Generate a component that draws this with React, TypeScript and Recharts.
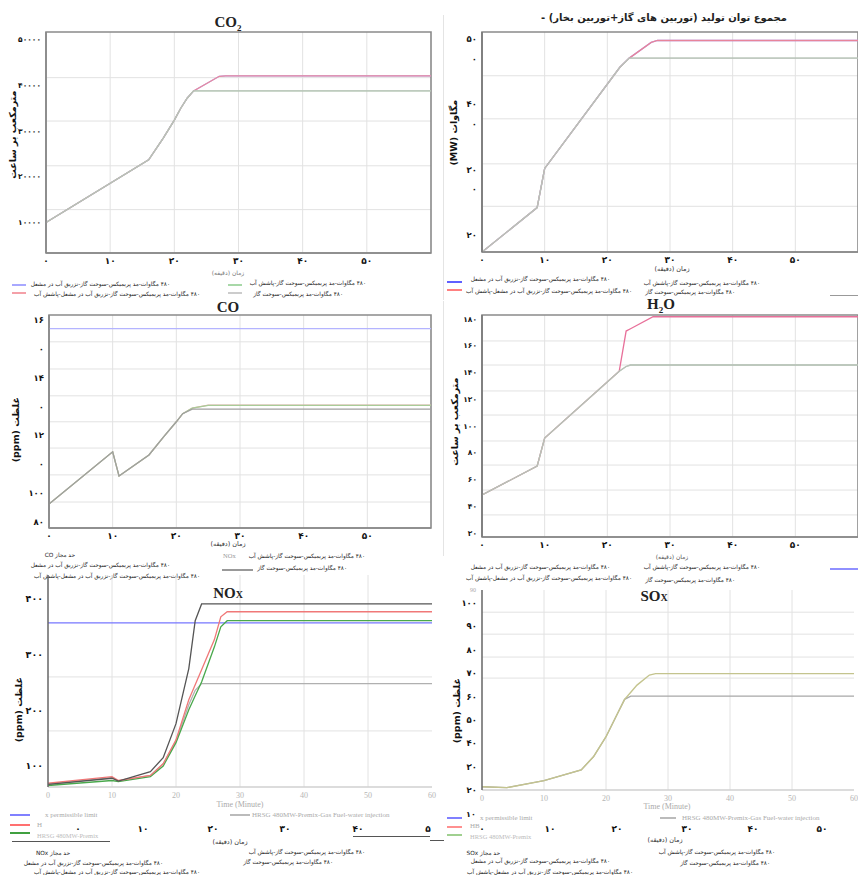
import React from 'react';
import { LineChart, Line, XAxis, YAxis, CartesianGrid, ReferenceLine, ReferenceArea } from 'recharts';

const PF = "'DejaVu Sans', sans-serif";
const SF = "'Liberation Serif', 'Times New Roman', serif";
const FA = '۰۱۲۳۴۵۶۷۸۹';
const toFa = (v: number | string) => String(v).replace(/\d/g, (d) => FA[+d]);

// ---------- shared tick labels ----------
const xTicksFa = [0, 10, 20, 30, 40, 50];
const xTicksEn = [0, 10, 20, 30, 40, 50, 60];
const gridV = [10, 20, 30, 40, 50];

// ---------- CO2 ----------
const co2Time = [0, 16, 18.3, 20, 21, 22, 23, 27, 28, 60];
const co2Gas = [10000, 23700, 28500, 32400, 35000, 37200, 38800, 38800, 38800, 38800];
const co2Spray = [10000, 23700, 28500, 32400, 35000, 37200, 38800, 38800, 38800, 38800];
const co2Inject = [10000, 23700, 28500, 32400, 35000, 37200, 38800, 42000, 42100, 42100];
const co2InjectSpray = [10000, 23700, 28500, 32400, 35000, 37200, 38800, 42000, 42100, 42100];
const co2YTicks = [10000, 20000, 30000, 40000, 50000];
const co2GridH = [12800, 22400, 32200, 41700];

// ---------- Power ----------
const pwTime = [0, 8.8, 10, 22, 23.5, 27, 28, 60];
const pwGas = [17.4, 24.2, 30.2, 45.7, 47.1, 47.1, 47.1, 47.1];
const pwSpray = [17.4, 24.2, 30.2, 45.7, 47.1, 47.1, 47.1, 47.1];
const pwInject = [17.4, 24.2, 30.2, 45.7, 47.1, 49.5, 49.8, 49.8];
const pwInjectSpray = [17.4, 24.2, 30.2, 45.7, 47.1, 49.5, 49.8, 49.8];
const pwYTicks = [20, 27, 30, 37, 40, 47, 50];
const pwYLabels = ['۲۰', '۰', '۳۰', '۰', '۴۰', '۰', '۵۰'];
const pwGridH = [24.4, 30.9, 37.8, 44.4];

// ---------- CO ----------
const coTime = [0, 10, 11, 15.7, 18, 20, 21, 22.5, 25, 60];
const coGas = [96.2, 114.3, 105.9, 113.2, 119.5, 124.7, 127.5, 129.1, 129.1, 129.1];
const coSpray = [96.2, 114.3, 105.9, 113.2, 119.5, 124.7, 127.5, 129.4, 130.4, 130.4];
const coInjectSpray = [96.2, 114.3, 105.9, 113.2, 119.5, 124.7, 127.5, 129.4, 130.5, 130.5];
const coLimit = 157;
const coYTicks = [90, 100, 110, 120, 130, 140, 150, 160];
const coYLabels = ['۸۰', '۱۰۰', '۰', '۱۲', '۰', '۱۴', '۰', '۱۶'];
const coGridH = [96.9, 106.3, 115.6, 124.7, 133.7, 143, 152.4];

// ---------- H2O ----------
const h2oTime = [0, 8.8, 10, 21.9, 23, 23.7, 27.3, 60];
const h2oGas = [48.4, 70, 91, 141, 144.5, 145.6, 145.6, 145.6];
const h2oSpray = [48.4, 70, 91, 141, 144.5, 145.6, 145.6, 145.6];
const h2oInject = [48.4, 70, 91, 141, 171, 172.7, 181.7, 181.7];
const h2oYTicks = [20, 40, 60, 80, 100, 120, 140, 160, 180];
const h2oGridH = [33.5, 52.1, 70.8, 88.8, 108.2, 126.2, 145.6, 163.6];

// ---------- NOx ----------
const noxTime = [0, 10, 11, 16, 18, 20, 22, 23, 24, 26, 27, 28, 60];
const noxGas = [67, 78, 73, 90, 115, 176, 275, 361, 391, 391, 391, 391, 391];
const noxInjectSpray = [69, 81, 74, 83, 104, 147, 219, 246, 273, 327, 368, 377, 377];
const noxSpray = [65, 74, 72, 81, 100, 142, 201, 226, 251, 314, 350, 361, 361];
const noxInject = [67, 79, 73, 83, 104, 145, 210, 236, 248, 248, 248, 248, 248];
const noxLimit = 357;
const noxYTicks = [100, 200, 300, 400];
const noxGridH = [163, 260];
const noxGhostX = [78, 143, 213, 285, 358, 428];
const noxGhostLabels = ['۰', '۱۰', '۲۰', '۳۰', '۴۰', '۵'];

// ---------- SOx ----------
const soxTime = [0, 4, 10, 16, 18, 20, 22, 23, 24, 25, 27, 28, 60];
const soxGas = [21.4, 21.0, 24.0, 28.6, 34.3, 42.8, 53.5, 58.8, 60.2, 60.2, 60.2, 60.2, 60.2];
const soxWater = [21.4, 21.0, 24.0, 28.6, 34.3, 42.8, 53.5, 58.8, 61.8, 64.9, 69.2, 69.8, 69.8];
const soxYTicks = [20, 30, 40, 50, 60, 70, 80, 90, 100];
const soxGridH = [67.9, 76.9, 86.7, 96.1];
const soxGhostX = [482, 550, 617, 687, 753, 822];
const soxGhostLabels = ['۰', '۱۰', '۲۰', '۳۰', '۴۰', '۵۰'];

// ---------- legend texts ----------
const L1 = '۴۸۰ مگاوات-مد پریمیکس-سوخت گاز-تزریق آب در مشعل';
const L2 = '۴۸۰ مگاوات-مد پریمیکس-سوخت گاز-تزریق آب در مشعل-پاشش آب';
const L3 = '۴۸۰ مگاوات-مد پریمیکس-سوخت گاز-پاشش آب';
const L4 = '۴۸۰ مگاوات-مد پریمیکس-سوخت گاز';
const TIME_FA = 'زمان (دقیقه)';

function rows(time: number[], cols: Record<string, number[]>) {
  return time.map((t, i) => {
    const r: Record<string, number> = { t };
    Object.keys(cols).forEach((k) => (r[k] = cols[k][i]));
    return r;
  });
}

type LineSpec = { k: string; c: string; w?: number; o?: number };
type PanelProps = {
  px0: number; px1: number; py0: number; py1: number; yW: number; xH: number;
  data: any[]; lines: LineSpec[];
  yDomain: [number, number]; yTicks: number[]; yFmt: (v: number) => string;
  xTicks: number[]; xFmt: (v: number) => string; xTick: any; yTick: any;
  gridH: number[]; frame?: boolean; xAxisColor: string; yAxisColor: string;
  limit?: { y: number; c: string };
};

function Panel(p: PanelProps) {
  const mt = 4, mr = 8;
  const width = p.px1 - p.px0 + p.yW + mr;
  const height = p.py1 - p.py0 + p.xH + mt;
  return (
    <div style={{ position: 'absolute', left: p.px0 - p.yW, top: p.py0 - mt }}>
      <LineChart width={width} height={height} data={p.data} margin={{ top: mt, right: mr, bottom: 0, left: 0 }}>
        <CartesianGrid horizontalValues={p.gridH} verticalValues={gridV} stroke="#e2e2e2" />
        <XAxis dataKey="t" type="number" domain={[0, 60]} allowDataOverflow ticks={p.xTicks} interval={0}
          tickFormatter={p.xFmt} height={p.xH} tick={p.xTick} tickLine={false} tickSize={0} tickMargin={5}
          axisLine={{ stroke: p.xAxisColor, strokeWidth: 1.5 }} />
        <YAxis type="number" domain={p.yDomain} allowDataOverflow ticks={p.yTicks} interval={0}
          tickFormatter={p.yFmt} width={p.yW} tick={p.yTick} tickLine={false} tickSize={0} tickMargin={5}
          axisLine={{ stroke: p.yAxisColor, strokeWidth: 1.5 }} />
        {p.frame && (
          <ReferenceArea x1={0} x2={60} y1={p.yDomain[0]} y2={p.yDomain[1]} fill="none" fillOpacity={0}
            stroke="#8a8a8a" strokeWidth={1.6} ifOverflow="visible" />
        )}
        {p.limit && <ReferenceLine y={p.limit.y} stroke={p.limit.c} strokeWidth={1.2} />}
        {p.lines.map((l) => (
          <Line key={l.k} dataKey={l.k} type="linear" stroke={l.c} strokeWidth={l.w ?? 1.3}
            strokeOpacity={l.o ?? 1} dot={false} activeDot={false} isAnimationActive={false} />
        ))}
      </LineChart>
    </div>
  );
}

type TP = { x: number; y: number; a?: 'l' | 'r' | 'c'; s?: number; b?: boolean; c?: string; f?: string; rtl?: boolean; children: React.ReactNode };
function Tx({ x, y, a = 'l', s = 5.8, b = false, c = '#222', f = PF, rtl = true, children }: TP) {
  const st: React.CSSProperties = {
    position: 'absolute', top: y - s * 0.6, fontSize: s, lineHeight: `${s * 1.2}px`,
    fontWeight: b ? 'bold' : 'normal', color: c, fontFamily: f, whiteSpace: 'nowrap',
    direction: rtl ? 'rtl' : 'ltr',
  };
  if (a === 'l') { st.left = x; st.textAlign = 'left'; }
  else if (a === 'r') { st.left = x - 400; st.width = 400; st.textAlign = 'right'; }
  else { st.left = x - 200; st.width = 400; st.textAlign = 'center'; }
  return <div style={st}>{children}</div>;
}

function VTx({ x, y, s = 10, children }: { x: number; y: number; s?: number; children: React.ReactNode }) {
  return (
    <div style={{
      position: 'absolute', left: x - 100, top: y - s * 0.6, width: 200, textAlign: 'center',
      transform: 'rotate(-90deg)', fontSize: s, lineHeight: `${s * 1.2}px`, fontWeight: 'bold',
      fontFamily: PF, direction: 'rtl', whiteSpace: 'nowrap', color: '#111',
    }}>{children}</div>
  );
}

function LL({ x1, x2, y, c, w = 2 }: { x1: number; x2: number; y: number; c: string; w?: number }) {
  return <div style={{ position: 'absolute', left: x1, top: y - w / 2, width: x2 - x1, height: w, background: c }} />;
}

const boldTick = { fontSize: 9, fontWeight: 'bold', fill: '#111', fontFamily: PF };
const yTickS = { fontSize: 7.5, fontWeight: 'bold', fill: '#111', fontFamily: PF };
const ghostTick = { fontSize: 8, fill: '#b5b5b5', fontFamily: SF };
const faX = (v: number) => toFa(v);
const enX = (v: number) => String(v);

export default function App() {
  const co2Data = rows(co2Time, { gas: co2Gas, spray: co2Spray, inject: co2Inject, injectSpray: co2InjectSpray });
  const pwData = rows(pwTime, { gas: pwGas, spray: pwSpray, inject: pwInject, injectSpray: pwInjectSpray });
  const coData = rows(coTime, { gas: coGas, spray: coSpray, injectSpray: coInjectSpray });
  const h2oData = rows(h2oTime, { gas: h2oGas, spray: h2oSpray, inject: h2oInject });
  const noxData = rows(noxTime, { gas: noxGas, injectSpray: noxInjectSpray, spray: noxSpray, inject: noxInject });
  const soxData = rows(soxTime, { gas: soxGas, water: soxWater });

  return (
    <div style={{ position: 'absolute', left: 0, top: 0, width: 858, height: 875, overflow: 'hidden', background: '#fff' }}>
      {/* faint separators */}
      <LL x1={443} x2={444} y={157} c="#e4e4e4" w={285} />
      <LL x1={443} x2={444} y={428} c="#e4e4e4" w={255} />

      {/* ---------- CO2 ---------- */}
      <Tx x={228} y={22} a="c" s={15} b f={SF} rtl={false}>CO<sub style={{ fontSize: 9 }}>2</sub></Tx>
      <VTx x={13} y={135} s={9.5}>مترمکعب بر ساعت</VTx>
      <Panel px0={46} px1={431} py0={32} py1={253} yW={46} xH={20} data={co2Data}
        lines={[
          { k: 'inject', c: '#a0a0ff' }, { k: 'injectSpray', c: '#eb8a9c' },
          { k: 'spray', c: '#a9cfa9' }, { k: 'gas', c: '#bdbdbd', o: 0.75 },
        ]}
        yDomain={[3300, 51700]} yTicks={co2YTicks} yFmt={faX} xTicks={xTicksFa} xFmt={faX}
        xTick={boldTick} yTick={yTickS} gridH={co2GridH} frame xAxisColor="#888" yAxisColor="#888" />
      <Tx x={228} y={273} a="c" s={6} c="#777">{TIME_FA}</Tx>
      <LL x1={12} x2={26} y={285} c="#a8a8ff" />
      <LL x1={12} x2={26} y={293} c="#f4a0a8" />
      <Tx x={170} y={284} a="r">{L1}</Tx>
      <Tx x={200} y={294} a="r">{L2}</Tx>
      <LL x1={228} x2={242} y={285} c="#a8d8a8" />
      <LL x1={228} x2={242} y={293} c="#cccccc" />
      <Tx x={366} y={283} a="r">{L3}</Tx>
      <Tx x={343} y={294} a="r">{L4}</Tx>

      {/* ---------- Power ---------- */}
      <Tx x={664} y={18} a="c" s={10} b>مجموع توان تولید (توربین های گاز+توربین بخار) -</Tx>
      <VTx x={454} y={133} s={9.5}>مگاوات (MW)</VTx>
      <Panel px0={482} px1={858} py0={32} py1={252} yW={40} xH={20} data={pwData}
        lines={[
          { k: 'inject', c: '#a0a0ff' }, { k: 'injectSpray', c: '#e8849a' },
          { k: 'spray', c: '#b0ccb0' }, { k: 'gas', c: '#bdbdbd', o: 0.75 },
        ]}
        yDomain={[17.4, 51.1]} yTicks={pwYTicks} yFmt={(v) => pwYLabels[pwYTicks.indexOf(v)] ?? ''}
        xTicks={xTicksFa} xFmt={faX} xTick={boldTick} yTick={{ ...yTickS, fontSize: 8.5 }} gridH={pwGridH} frame
        xAxisColor="#888" yAxisColor="#777" />
      <Tx x={672} y={270} a="c" s={6.5} c="#333">{TIME_FA}</Tx>
      <LL x1={447} x2={462} y={282} c="#6060ff" />
      <LL x1={447} x2={462} y={290} c="#ff8080" />
      <Tx x={610} y={279} a="r">{L1}</Tx>
      <Tx x={632} y={291} a="r">{L2}</Tx>
      <Tx x={760} y={283} a="r">{L3}</Tx>
      <Tx x={735} y={292} a="r">{L4}</Tx>
      <LL x1={830} x2={858} y={295} c="#999" w={1} />

      {/* ---------- CO ---------- */}
      <Tx x={228} y={307} a="c" s={15} b f={SF} rtl={false}>CO</Tx>
      <VTx x={16} y={430} s={9.5}>غلظت (ppm)</VTx>
      <Panel px0={49} px1={431} py0={315} py1={528} yW={49} xH={20} data={coData}
        lines={[
          { k: 'injectSpray', c: '#e8b0b0' }, { k: 'spray', c: '#a8cc98' }, { k: 'gas', c: '#a0a0a0' },
        ]}
        limit={{ y: coLimit, c: '#b4b4ff' }}
        yDomain={[87.9, 161.7]} yTicks={coYTicks} yFmt={(v) => coYLabels[coYTicks.indexOf(v)] ?? ''}
        xTicks={xTicksFa} xFmt={faX} xTick={boldTick} yTick={{ ...yTickS, fontSize: 8.5 }} gridH={coGridH} frame
        xAxisColor="#888" yAxisColor="#888" />
      <Tx x={228} y={545} a="c" s={6.5} c="#333">{TIME_FA}</Tx>
      <Tx x={75} y={555} a="r">حد مجاز CO</Tx>
      <Tx x={170} y={565} a="r">{L1}</Tx>
      <Tx x={200} y={576} a="r">{L2}</Tx>
      <Tx x={223} y={556} s={6.5} c="#999" f={SF} rtl={false}>NOx</Tx>
      <Tx x={365} y={556} a="r">{L3}</Tx>
      <Tx x={347} y={568} a="r">{L4}</Tx>
      <LL x1={222} x2={253} y={570} c="#999" w={1.5} />

      {/* ---------- H2O ---------- */}
      <Tx x={661} y={304} a="c" s={15} b f={SF} rtl={false}>H<sub style={{ fontSize: 9 }}>2</sub>O</Tx>
      <VTx x={455} y={422} s={9.5}>مترمکعب بر ساعت</VTx>
      <Panel px0={482} px1={858} py0={315} py1={537} yW={40} xH={20} data={h2oData}
        lines={[
          { k: 'inject', c: '#e8709a' }, { k: 'spray', c: '#a9c9a9' }, { k: 'gas', c: '#bdbdbd', o: 0.75 },
        ]}
        yDomain={[17, 183]} yTicks={h2oYTicks} yFmt={faX} xTicks={xTicksFa} xFmt={faX}
        xTick={boldTick} yTick={yTickS} gridH={h2oGridH} frame xAxisColor="#888" yAxisColor="#777" />
      <Tx x={672} y={557} a="c" s={6} c="#555">{TIME_FA}</Tx>
      <Tx x={610} y={567} a="r">{L1}</Tx>
      <Tx x={632} y={578} a="r">{L2}</Tx>
      <Tx x={760} y={567} a="r">{L3}</Tx>
      <Tx x={735} y={580} a="r">{L4}</Tx>
      <LL x1={830} x2={858} y={569} c="#9090ff" />

      {/* ---------- NOx ---------- */}
      <VTx x={19} y={710} s={9.5}>غلظت (ppm)</VTx>
      <Panel px0={48} px1={432} py0={575} py1={787} yW={48} xH={16} data={noxData}
        lines={[
          { k: 'inject', c: '#b0b0b0' }, { k: 'spray', c: '#49a84c' },
          { k: 'injectSpray', c: '#f07878' }, { k: 'gas', c: '#555555' },
        ]}
        limit={{ y: noxLimit, c: '#7676ff' }}
        yDomain={[62.3, 443]} yTicks={noxYTicks} yFmt={faX} xTicks={xTicksEn} xFmt={enX}
        xTick={ghostTick} yTick={{ ...boldTick, fontSize: 9.5 }} gridH={noxGridH}
        xAxisColor="#d0d0d0" yAxisColor="#666" />
      <Tx x={228} y={593} a="c" s={15} b f={SF} rtl={false}>NO<span style={{ fontSize: 10 }}>X</span></Tx>
      <Tx x={240} y={805} a="c" s={8} c="#aaa" f={SF} rtl={false}>Time (Minute)</Tx>
      <LL x1={10} x2={30} y={815} c="#8080ff" />
      <LL x1={10} x2={30} y={825} c="#ff7070" />
      <LL x1={10} x2={30} y={833} c="#40a040" />
      <Tx x={45} y={815} s={7} c="#aaa" f={SF} rtl={false}>x permissible limit</Tx>
      <Tx x={37} y={825} s={7} c="#aaa" f={SF} rtl={false}>H</Tx>
      <Tx x={37} y={836} s={6.5} c="#bbb" f={SF} rtl={false}>HRSG 480MW-Premix</Tx>
      <LL x1={230} x2={250} y={815} c="#bbb" />
      <Tx x={252} y={815} s={7} c="#aaa" f={SF} rtl={false}>HRSG 480MW-Premix-Gas Fuel-water injection</Tx>
      {noxGhostX.map((x, i) => (
        <Tx key={'ng' + i} x={x} y={829} a="c" s={9} b c="#111" rtl={false}>{noxGhostLabels[i]}</Tx>
      ))}
      <Tx x={230} y={843} a="c" s={6.5} c="#333">{TIME_FA}</Tx>
      <LL x1={12} x2={110} y={841} c="#555" w={1} />
      <LL x1={353} x2={430} y={836} c="#555" w={1} />
      <Tx x={70} y={853} a="r">حد مجاز NOx</Tx>
      <Tx x={163} y={863} a="r">{L1}</Tx>
      <Tx x={200} y={872} a="r">{L2}</Tx>
      <Tx x={365} y={852} a="r">{L3}</Tx>
      <Tx x={333} y={862} a="r">{L4}</Tx>

      {/* ---------- SOx ---------- */}
      <VTx x={457} y={711} s={9.5}>غلظت (ppm)</VTx>
      <Panel px0={482} px1={854} py0={590} py1={790} yW={40} xH={16} data={soxData}
        lines={[
          { k: 'gas', c: '#a8a8a8' }, { k: 'water', c: '#c4c48e', w: 1.4 },
        ]}
        yDomain={[20, 105.6]} yTicks={soxYTicks} yFmt={faX} xTicks={xTicksEn} xFmt={enX}
        xTick={ghostTick} yTick={{ ...yTickS, fontSize: 8.5 }} gridH={soxGridH} xAxisColor="#d0d0d0" yAxisColor="#666" />
      <Tx x={654} y={596} a="c" s={15} b f={SF} rtl={false}>SO<span style={{ fontSize: 10 }}>X</span></Tx>
      <Tx x={470} y={591} s={6} c="#aaa" f={SF} rtl={false}>90</Tx>
      <Tx x={667} y={807} a="c" s={8} c="#aaa" f={SF} rtl={false}>Time (Minute)</Tx>
      <LL x1={447} x2={462} y={818} c="#8080ff" />
      <LL x1={447} x2={462} y={827} c="#ff9090" />
      <LL x1={447} x2={462} y={835} c="#a0d090" />
      <Tx x={466} y={815} s={8} b c="#111" rtl={false}>۱۰</Tx>
      <Tx x={480} y={818} s={7} c="#aaa" f={SF} rtl={false}>x permissible limit</Tx>
      <Tx x={470} y={826} s={7} c="#aaa" f={SF} rtl={false}>HB</Tx>
      <Tx x={470} y={837} s={6.5} c="#bbb" f={SF} rtl={false}>HRSG 480MW-Premix</Tx>
      <LL x1={660} x2={676} y={818} c="#bbb" />
      <Tx x={682} y={818} s={7} c="#aaa" f={SF} rtl={false}>HRSG 480MW-Premix-Gas Fuel-water injection</Tx>
      {soxGhostX.map((x, i) => (
        <Tx key={'sg' + i} x={x} y={829} a="c" s={9} b c="#111" rtl={false}>{soxGhostLabels[i]}</Tx>
      ))}
      <Tx x={665} y={841} a="c" s={6.5} c="#333">{TIME_FA}</Tx>
      <LL x1={430} x2={444} y={840} c="#555" w={1} />
      <Tx x={500} y={853} a="r">حد مجاز SOx</Tx>
      <Tx x={610} y={861} a="r">{L1}</Tx>
      <Tx x={633} y={872} a="r">{L2}</Tx>
      <Tx x={775} y={852} a="r">{L3}</Tx>
      <Tx x={770} y={863} a="r">{L4}</Tx>
    </div>
  );
}
